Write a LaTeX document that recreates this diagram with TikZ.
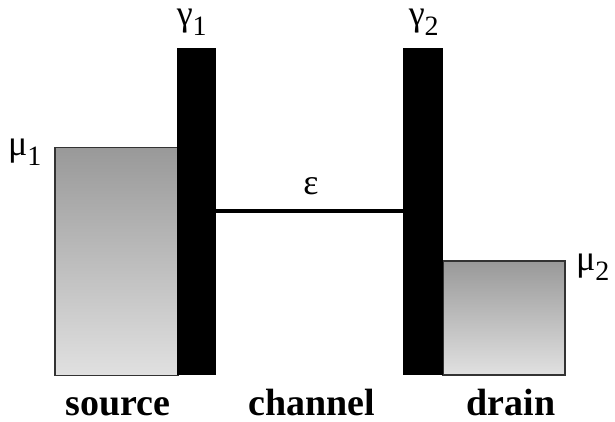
\documentclass[tikz,border=0pt]{standalone}
\usepackage{fontspec}
\setmainfont{Liberation Serif}
\begin{document}
\begin{tikzpicture}[x=1pt,y=-1pt,
  res/.style={draw=black!80,line width=1.5pt,top color=black!40,bottom color=black!12,inner sep=0pt},
  barrier/.style={fill=black,draw=black,inner sep=0pt},
  greek/.style={font=\fontsize{36}{36}\selectfont,inner sep=0pt},
  lbl/.style={font=\fontsize{38}{38}\selectfont\bfseries,inner sep=0pt,anchor=base}]
\useasboundingbox (0,0) rectangle (615,421);
\node[res,anchor=north west,minimum width=123pt,minimum height=228pt] (src) at (54,146.5) {};
\node[res,anchor=north west,minimum width=122pt,minimum height=114pt] (drn) at (442,260) {};
\node[barrier,anchor=north west,minimum width=38pt,minimum height=326pt] (b1) at (177,48) {};
\node[barrier,anchor=north west,minimum width=39pt,minimum height=326pt] (b2) at (403,48) {};
\coordinate (cl) at (b1.east |- 0,211);
\coordinate (cr) at (b2.west |- 0,211);
\draw[line width=4.5pt] (cl) -- (cr);
\node[greek] (eps) at (311,186) {ε};
\node[greek] (g1) at (192,22) {γ\textsubscript{\fontsize{28}{28}\selectfont 1}};
\node[greek] (g2) at (424,22) {γ\textsubscript{\fontsize{28}{28}\selectfont 2}};
\node[greek] (m1) at (25,152) {μ\textsubscript{\fontsize{28}{28}\selectfont 1}};
\node[greek] (m2) at (593,267) {μ\textsubscript{\fontsize{28}{28}\selectfont 2}};
\node[lbl] (ls) at (118,415) {source};
\node[lbl] (lc) at (312,415) {channel};
\node[lbl] (ld) at (511,415) {drain};
\end{tikzpicture}
\end{document}
